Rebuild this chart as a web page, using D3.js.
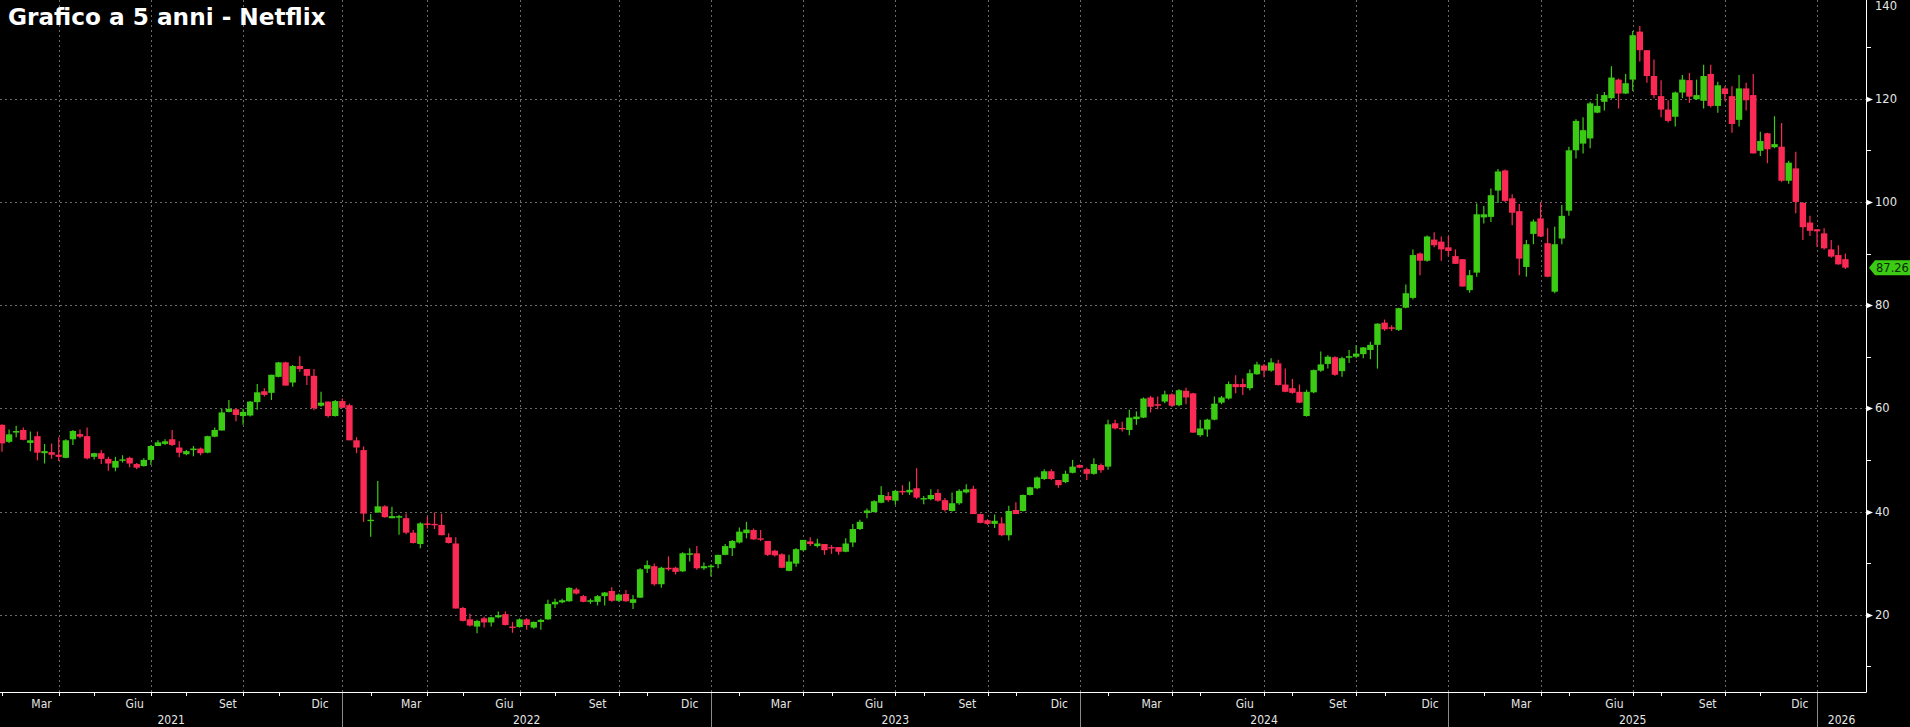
<!DOCTYPE html>
<html><head><meta charset="utf-8">
<script src="https://cdn.jsdelivr.net/npm/d3@7"></script>
<style>
html,body{margin:0;padding:0;background:#000;overflow:hidden}
svg{display:block}
</style>
</head><body>
<svg id="chart" width="1910" height="727"></svg>
<script>
// ---------- DATA (weekly candles, split-adjusted, weeks ending Friday) ----------
const title = "Grafico a 5 anni - Netflix";
const firstWeekEnding = "2021-02-05";
const opens = [56.8,53.5,55.3,55.8,53.3,54.6,51.3,51.5,51.0,50.4,54.0,55.0,54.6,50.6,51.3,50.2,48.5,50.0,50.4,49.2,
48.8,50.0,52.7,53.1,54.0,52.4,51.1,51.9,52.2,51.4,54.5,55.7,59.3,59.8,58.5,58.6,61.2,63.3,63.0,66.1,
68.9,65.0,68.2,67.6,66.3,60.5,61.3,58.5,61.4,60.6,53.8,51.9,38.3,39.8,41.0,38.7,38.8,38.7,35.9,33.7,
37.7,37.6,37.4,35.0,33.8,21.3,19.1,17.7,19.3,18.5,19.5,20.1,17.7,17.6,19.1,17.5,18.6,19.1,22.0,22.4,
22.6,24.9,23.6,22.5,22.5,23.6,24.6,22.7,24.0,22.3,23.3,28.9,29.4,25.9,29.1,29.1,28.4,31.6,31.9,29.0,
29.2,29.8,31.6,32.9,34.0,35.8,36.4,34.8,34.3,32.4,31.7,28.5,29.9,32.5,34.2,33.3,33.7,33.1,33.1,32.2,
34.0,36.6,39.7,39.9,41.7,43.0,42.1,44.0,43.7,44.5,42.4,42.4,43.6,42.2,40.1,41.6,43.7,44.4,39.5,38.3,
37.6,37.7,35.4,40.3,40.1,43.2,44.5,46.3,47.8,46.1,45.7,47.5,49.0,48.2,47.3,49.0,48.7,57.1,56.2,55.8,
57.9,58.2,62.1,60.8,61.3,62.7,60.6,63.4,62.9,54.8,55.9,57.8,61.1,61.9,64.7,64.7,63.9,66.6,68.3,67.3,
68.7,64.6,63.9,63.2,58.5,63.1,67.3,68.6,69.9,67.2,69.8,70.0,70.5,71.3,72.3,76.6,75.7,75.2,79.5,81.4,
90.0,88.6,92.7,92.3,91.2,89.5,88.9,82.9,86.3,97.0,97.1,102.2,106.1,100.7,98.2,87.4,93.8,96.8,92.0,82.6,
92.9,98.3,110.0,111.3,112.3,117.3,119.4,120.1,123.7,121.0,123.7,133.0,129.4,124.4,120.5,117.9,116.5,121.2,123.6,119.9,
119.6,124.8,118.6,122.0,120.5,115.9,122.0,120.7,109.9,113.3,110.6,110.7,104.1,106.5,99.8,96.0,94.7,93.9,90.8,89.7,
88.9];
const highs = [56.9,55.9,56.6,56.3,55.5,55.5,53.1,53.2,54.4,54.0,55.8,55.9,56.3,51.4,51.9,50.6,50.6,50.9,50.6,49.4,
50.3,52.9,53.8,54.0,55.8,53.6,51.9,52.7,52.4,54.7,56.3,59.9,61.6,60.0,59.9,61.4,64.7,63.9,66.5,69.0,
69.0,68.4,70.1,67.6,67.6,63.2,61.3,61.6,61.9,60.9,54.4,52.6,39.5,45.9,41.2,40.9,39.3,39.6,36.4,37.9,
39.0,39.8,39.6,35.8,35.0,21.5,20.2,19.0,19.6,19.6,20.6,20.6,18.6,19.3,19.3,18.7,19.2,22.9,23.1,23.1,
25.3,25.2,23.8,23.1,23.8,24.4,25.3,24.1,24.8,23.8,29.0,30.5,29.9,29.3,31.3,29.3,32.1,32.9,33.3,30.1,
29.8,31.6,33.7,34.5,36.9,38.0,36.7,36.4,34.3,32.6,31.9,31.6,32.9,34.5,35.0,34.7,33.7,33.5,33.1,34.8,
37.6,38.4,40.6,42.2,44.9,43.8,44.2,45.1,45.8,48.4,43.0,44.3,44.3,42.6,43.7,44.3,45.3,45.0,39.6,38.5,
39.4,38.9,41.1,41.8,43.3,44.8,46.8,48.2,48.2,46.1,47.9,50.0,49.1,48.5,50.3,49.3,57.8,57.8,57.4,59.7,
59.4,62.1,62.4,62.3,63.4,62.9,63.7,64.0,63.0,57.8,58.0,62.3,62.4,65.2,66.4,65.8,67.5,69.0,68.6,69.7,
69.4,67.7,65.7,64.6,63.6,67.5,71.0,70.3,70.1,70.0,71.3,72.2,71.9,72.9,76.5,77.2,76.1,79.5,84.0,90.8,
90.2,93.5,94.1,93.3,93.4,90.8,88.9,86.8,99.7,99.2,102.6,106.4,106.3,101.5,99.6,92.6,96.6,99.9,94.9,95.2,
99.4,110.7,116.0,116.4,119.4,120.9,121.3,126.3,123.9,124.8,133.1,134.1,129.4,127.6,123.6,119.7,121.4,124.6,125.0,123.7,
126.6,126.6,123.3,122.4,122.4,124.6,123.1,124.8,113.6,113.4,116.6,115.3,108.0,109.7,100.0,97.3,94.7,94.9,92.6,91.6,
90.0];
const lows = [51.6,53.3,54.4,53.8,51.7,49.9,49.3,50.2,49.8,50.3,52.9,54.2,50.1,50.1,49.2,47.9,47.8,49.5,48.6,48.2,
48.7,49.0,52.7,52.9,52.7,50.5,50.9,50.7,50.9,51.3,54.4,55.7,59.2,57.5,56.8,58.4,59.7,62.3,61.6,66.0,
64.4,64.2,67.1,64.5,59.6,60.3,58.2,58.4,60.0,53.8,51.3,38.0,35.1,39.8,38.8,38.7,35.5,35.6,33.8,32.9,
36.7,36.6,35.4,33.8,21.2,18.7,17.7,16.4,17.5,17.7,19.3,17.9,16.5,17.5,17.1,17.3,17.1,19.0,21.3,22.2,
22.5,23.9,22.4,22.1,21.8,21.8,22.5,22.5,22.5,21.1,23.3,28.1,25.6,25.2,28.5,27.8,28.3,30.3,28.7,28.7,
27.4,29.0,31.5,31.4,33.8,34.8,34.5,34.3,31.4,31.3,29.0,28.4,29.3,32.3,33.3,33.0,31.6,31.8,31.6,32.1,
33.1,36.4,38.7,39.8,41.6,41.9,41.3,43.2,43.2,42.4,41.4,42.2,41.9,40.0,40.0,41.3,43.5,39.5,37.7,37.4,
36.8,35.2,34.4,39.5,40.0,43.1,44.3,46.1,46.1,44.6,45.5,47.4,48.4,46.1,47.1,47.5,48.1,55.9,55.5,54.8,
56.8,58.1,59.2,59.8,61.0,60.3,60.4,60.8,55.2,54.5,54.5,57.7,60.8,61.7,62.9,62.6,63.5,66.5,66.0,67.1,
64.4,63.1,62.8,61.0,58.4,62.9,67.1,67.7,66.3,66.1,68.8,69.7,69.7,69.5,67.7,75.0,75.0,75.0,79.4,81.1,
85.8,88.4,91.2,88.6,89.4,88.0,83.6,82.4,85.5,95.8,96.1,99.8,100.0,95.5,85.8,85.5,91.8,93.2,85.4,82.3,
91.8,97.3,108.4,109.4,110.4,117.2,117.7,119.9,118.1,120.9,121.5,127.2,123.1,120.1,116.4,115.4,114.6,120.1,119.2,119.8,
118.1,118.3,117.3,119.6,113.4,114.6,117.7,109.4,108.9,107.5,110.4,103.9,103.5,97.8,92.6,93.4,91.3,90.8,89.2,87.8,
87.0];
const closes = [53.2,54.95,55.6,53.9,53.8,51.4,51.7,51.0,50.6,53.8,55.6,54.5,50.3,51.3,50.2,49.3,49.8,50.1,49.3,48.5,
50.0,52.7,53.4,53.6,52.9,51.4,51.7,52.2,51.3,54.6,55.8,59.2,59.9,58.7,59.3,61.3,63.1,62.6,66.5,68.9,
64.4,68.2,67.6,66.3,60.0,61.1,58.5,61.4,60.1,53.8,52.4,39.6,38.4,41.0,38.9,39.1,39.1,35.9,33.9,37.7,
37.4,37.4,35.4,33.9,21.2,18.8,17.9,18.8,18.5,19.5,19.9,18.0,17.6,19.1,18.0,18.6,19.0,22.1,22.5,22.8,
25.2,24.1,22.5,22.8,23.6,24.3,22.7,23.9,22.6,23.0,28.8,29.6,25.9,29.1,28.8,28.3,31.9,31.9,29.0,29.4,
29.5,31.6,33.3,34.3,36.1,36.5,34.6,34.6,31.6,31.5,29.1,30.3,32.7,34.5,33.7,33.8,32.5,32.9,32.2,33.8,
36.6,38.0,40.2,42.0,43.2,42.2,44.0,43.7,44.2,42.7,42.6,43.2,42.1,40.3,41.6,44.0,44.3,39.5,37.8,37.6,
38.2,35.4,40.1,39.5,43.2,44.7,46.6,47.8,46.3,45.1,47.3,48.7,48.5,47.3,49.2,48.0,56.9,56.1,56.0,58.2,
58.4,61.9,60.3,60.5,62.7,60.5,63.5,62.1,55.3,56.1,57.8,60.9,62.1,64.7,64.1,64.1,66.8,68.5,67.3,68.9,
64.5,63.2,63.0,61.1,63.2,67.4,68.5,70.0,66.5,69.7,70.1,70.6,71.8,72.3,76.4,75.3,75.4,79.4,82.3,89.7,
88.6,93.3,91.6,90.8,90.5,88.0,83.6,85.8,97.6,97.6,101.3,105.9,100.2,97.9,89.0,91.8,96.2,93.3,85.5,91.8,
97.3,110.0,115.7,113.9,119.1,118.6,120.7,124.1,121.0,123.0,132.3,129.4,124.4,120.7,117.9,115.7,121.2,123.7,120.4,120.7,
124.4,118.6,122.6,120.9,115.1,122.0,119.7,109.4,111.8,110.2,111.2,104.1,107.6,100.0,95.1,94.4,94.3,91.0,89.4,87.9,
87.26];
const yTickValues = [20,40,60,80,100,120,140];
const yMinorValues = [10,30,50,70,90,110,130];
const monthLabels = ["Gen","Feb","Mar","Apr","Mag","Giu","Lug","Ago","Set","Ott","Nov","Dic"];
const labeledMonths = [2,5,8,11];
const lastPriceLabel = "87.26";

// ---------- LAYOUT ----------
const W = 1910, H = 727;
const plotRight = 1866, plotBottom = 692;
const DAY = 864e5;
const UP = "#3ccb14", DOWN = "#fb2a55";
const GRID = "#6a6a6a";

const svg = d3.select("#chart");
svg.append("rect").attr("width",W).attr("height",H).attr("fill","#000");

const start = new Date(firstWeekEnding + "T00:00:00Z");
const data = closes.map((c,i)=>({
  date: new Date(+start + i*7*DAY), o: opens[i], h: highs[i], l: lows[i], c: c
}));
const lastDate = data[data.length-1].date;

// time scale: ~7.09 px per weekly bar
const x = d3.scaleUtc()
  .domain([new Date(+start - 1.975*DAY), new Date(+start + (1842.3-1.975)*DAY)])
  .range([0, plotRight]);
const y = d3.scaleLinear().domain([5.02, 139.13]).range([plotBottom, 0]);

const dates = data.map(d=>d.date);
const bis = d3.bisector(d=>d).left;
function firstBarOnOrAfter(dt){ const k = bis(dates, dt); return k < dates.length ? dates[k] : null; }

// ---------- GRID ----------
const g = svg.append("g");
g.selectAll("line.hg").data(yTickValues).join("line")
  .attr("x1",0).attr("x2",plotRight)
  .attr("y1",d=>Math.round(y(d))+0.5).attr("y2",d=>Math.round(y(d))+0.5)
  .attr("stroke",GRID).attr("stroke-width",1).attr("stroke-dasharray","2,3");

const months = d3.utcMonth.range(d3.utcMonth.floor(start), lastDate);
const quarterStarts = months.filter(m=>m.getUTCMonth()%3===0 && m > start);
const qBars = quarterStarts.map(firstBarOnOrAfter).filter(Boolean);
g.selectAll("line.vg").data(qBars).join("line")
  .attr("x1",d=>Math.round(x(d))+0.5).attr("x2",d=>Math.round(x(d))+0.5)
  .attr("y1",0).attr("y2",plotBottom)
  .attr("stroke",GRID).attr("stroke-width",1).attr("stroke-dasharray","2,3");

// ---------- TITLE ----------
svg.append("text").attr("x",8).attr("y",25)
  .attr("font-family","DejaVu Sans, Verdana, sans-serif").attr("font-weight","bold")
  .attr("font-size",23.2).attr("fill","#fff").text(title);

// ---------- CANDLES ----------
const bw = 6.4;
const cg = svg.append("g");
cg.selectAll("line.wick").data(data).join("line")
  .attr("x1",d=>x(d.date)).attr("x2",d=>x(d.date))
  .attr("y1",d=>y(d.h)).attr("y2",d=>y(d.l))
  .attr("stroke",d=>d.c>=d.o?UP:DOWN).attr("stroke-width",1.2);
cg.selectAll("rect.body").data(data).join("rect")
  .attr("x",d=>x(d.date)-bw/2).attr("width",bw)
  .attr("y",d=>y(Math.max(d.o,d.c)))
  .attr("height",d=>Math.max(1.4, Math.abs(y(d.o)-y(d.c))))
  .attr("fill",d=>d.c>=d.o?UP:DOWN);

// ---------- Y AXIS (right) ----------
const ya = svg.append("g");
ya.append("line").attr("x1",plotRight+0.5).attr("x2",plotRight+0.5).attr("y1",0).attr("y2",plotBottom+0.5)
  .attr("stroke","#fff").attr("stroke-width",1);
ya.selectAll("line.minor").data(yMinorValues).join("line")
  .attr("x1",plotRight).attr("x2",plotRight+5)
  .attr("y1",d=>Math.round(y(d))+0.5).attr("y2",d=>Math.round(y(d))+0.5)
  .attr("stroke","#fff");
ya.selectAll("path.major").data(yTickValues).join("path")
  .attr("d",d=>{const yy=Math.round(y(d))+0.5; return `M${plotRight},${yy-3}L${plotRight+7},${yy}L${plotRight},${yy+3}Z`;})
  .attr("fill","#fff");
ya.selectAll("text").data(yTickValues).join("text")
  .attr("x",plotRight+9).attr("y",d=>Math.max(y(d), 6)).attr("dy","0.36em")
  .attr("font-family","DejaVu Sans, sans-serif").attr("font-size",11.5)
  .attr("fill","#e6e6e6").text(d=>d);

// last price tag
const lp = closes[closes.length-1];
const ly = y(lp);
svg.append("path")
  .attr("d",`M${plotRight+3},${ly}L${plotRight+9},${ly-7.5}L${W},${ly-7.5}L${W},${ly+7.5}L${plotRight+9},${ly+7.5}Z`)
  .attr("fill","#3ccb14");
svg.append("text").attr("x",plotRight+10).attr("y",ly).attr("dy","0.36em")
  .attr("font-family","DejaVu Sans, sans-serif").attr("font-size",11.5)
  .attr("fill","#0a2a00").text(lastPriceLabel);

// ---------- X AXIS ----------
const xa = svg.append("g");
xa.append("line").attr("x1",0).attr("x2",plotRight+0.5).attr("y1",plotBottom+0.5).attr("y2",plotBottom+0.5)
  .attr("stroke","#fff").attr("stroke-width",1);
const tickMonths = months.filter(m=>!labeledMonths.includes(m.getUTCMonth()));
const tickBars = tickMonths.map(firstBarOnOrAfter).filter(Boolean);
xa.selectAll("line.mt").data(tickBars).join("line")
  .attr("x1",d=>Math.round(x(d))+0.5).attr("x2",d=>Math.round(x(d))+0.5)
  .attr("y1",plotBottom).attr("y2",plotBottom+4)
  .attr("stroke","#fff");
const labelMonths = months.filter(m=>labeledMonths.includes(m.getUTCMonth()));
xa.selectAll("text.ml").data(labelMonths).join("text")
  .attr("x",d=>x(new Date(Date.UTC(d.getUTCFullYear(), d.getUTCMonth(), 16))))
  .attr("y",708).attr("text-anchor","middle")
  .attr("font-family","Liberation Sans Narrow, DejaVu Sans Condensed, sans-serif").attr("font-size",12)
  .attr("fill","#e6e6e6").text(d=>monthLabels[d.getUTCMonth()]);

// years
const yearStarts = d3.utcYear.range(d3.utcYear.ceil(start), lastDate).map(firstBarOnOrAfter).filter(Boolean);
xa.selectAll("line.ys").data(yearStarts).join("line")
  .attr("x1",d=>Math.round(x(d))+0.5).attr("x2",d=>Math.round(x(d))+0.5)
  .attr("y1",plotBottom+1).attr("y2",H)
  .attr("stroke","#8a8a8a");
const bounds = [0, ...yearStarts.map(d=>x(d)), plotRight];
const years = d3.range(start.getUTCFullYear(), lastDate.getUTCFullYear()+1);
xa.selectAll("text.yl").data(years).join("text")
  .attr("x",(d,i)=>(bounds[i]+bounds[i+1])/2).attr("y",724).attr("text-anchor","middle")
  .attr("font-family","Liberation Sans Narrow, DejaVu Sans Condensed, sans-serif").attr("font-size",12)
  .attr("fill","#e6e6e6").text(d=>d);
</script>
</body></html>
